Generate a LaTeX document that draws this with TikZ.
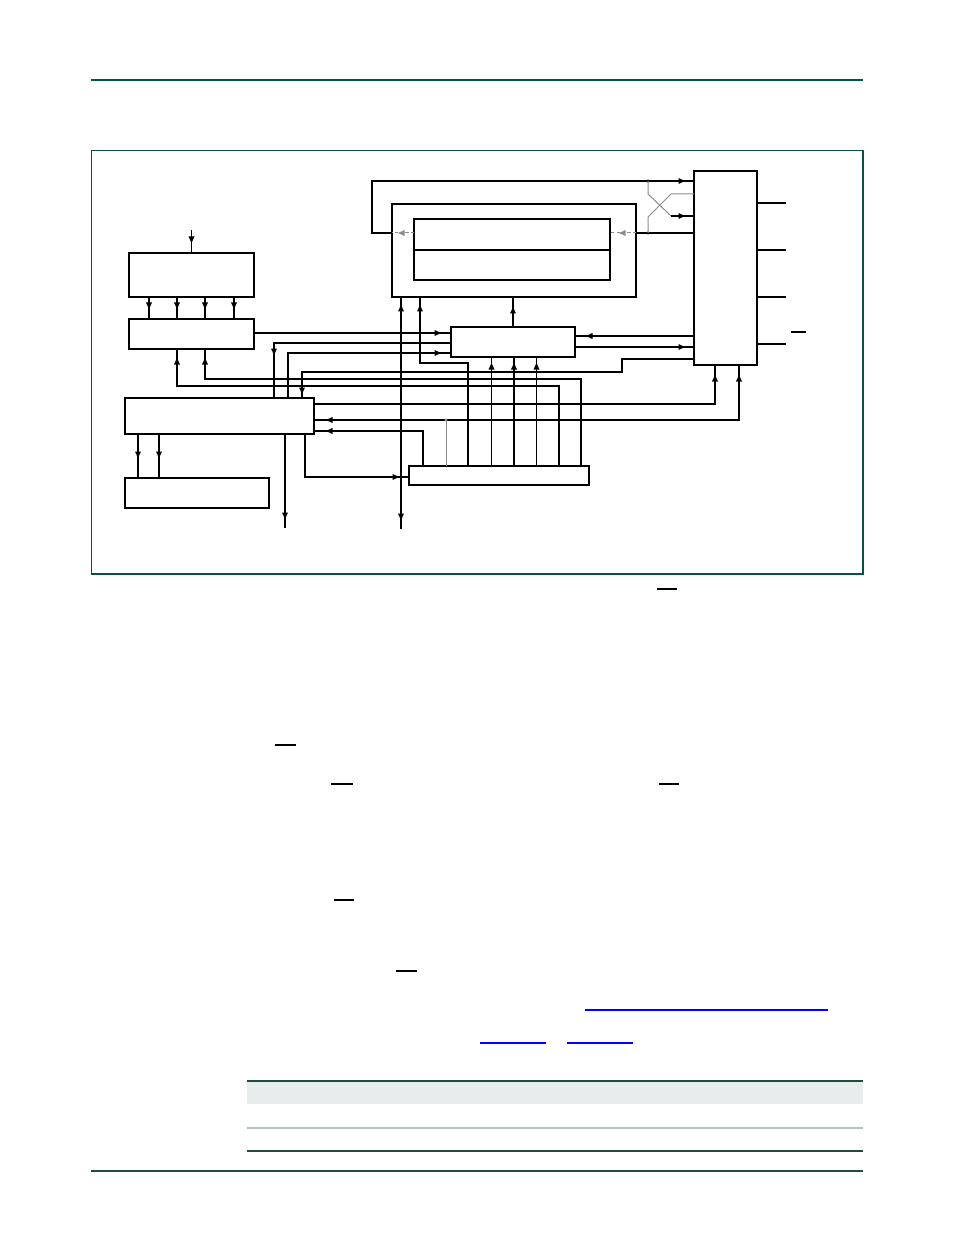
\documentclass[tikz,border=0pt]{standalone}
\definecolor{nxpgreen}{RGB}{0,84,72}
\definecolor{tabgreen}{RGB}{30,77,64}
\definecolor{tabfill}{RGB}{230,237,236}
\definecolor{tabline}{RGB}{178,196,193}
\definecolor{lgray}{RGB}{140,140,140}
\definecolor{linkblue}{RGB}{0,0,255}
\tikzset{
  blk/.style={draw, line width=1.15pt, inner sep=0pt, outer sep=0pt},
  blkthin/.style={blk, line width=0.8pt},
  wire/.style={line width=0.55pt},
  gwire/.style={line width=0.5pt, draw=lgray},
  dwire/.style={gwire, dash pattern=on 1.6pt off 1.1pt},
  ovl/.style={line width=0.55pt},
  lnk/.style={line width=0.55pt, draw=linkblue},
  tip/.pic={\fill (0,0) -- (-6.5,-3) -- (-6.5,3) -- cycle;}
}
\newcommand\tR[2]{\pic[rotate=0] at (#1,#2) {tip};}
\newcommand\tL[2]{\pic[rotate=180] at (#1,#2) {tip};}
\newcommand\tD[2]{\pic[rotate=-90] at (#1,#2) {tip};}
\newcommand\tU[2]{\pic[rotate=90] at (#1,#2) {tip};}
\begin{document}
\begin{tikzpicture}[x=0.5pt,y=-0.5pt, line join=miter]
\useasboundingbox (0,0) rectangle (954,1235);
\fill[white] (0,0) rectangle (954,1235);
% page rules
\draw[nxpgreen, line width=1pt] (91,80) -- (863,80);
\draw[tabgreen, line width=1pt] (91,1171) -- (863,1171);
\draw[nxpgreen, line width=0.65pt] (91.5,150.5) rectangle (863,574);
% table
\fill[tabfill] (247,1081) rectangle (863,1104);
\draw[tabgreen, line width=1pt] (247,1081) -- (863,1081);
\draw[tabline, line width=0.8pt] (247,1128) -- (863,1128);
\draw[tabgreen, line width=1pt] (247,1151) -- (863,1151);
% overlines and links in text
\draw[ovl] (657,589) -- (677,589);
\draw[ovl] (275,745) -- (296,745);
\draw[ovl] (331,784) -- (353,784);
\draw[ovl] (659,784) -- (679,784);
\draw[ovl] (334,900) -- (354,900);
\draw[ovl] (396,971) -- (417,971);
\draw[lnk] (585,1010) -- (828,1010);
\draw[lnk] (480,1043) -- (546,1043);
\draw[lnk] (567,1043) -- (633,1043);

% blocks
\node[blk, minimum width=62.5pt, minimum height=22pt] (A) at (191.5,275) {};
\node[blkthin, minimum width=62.5pt, minimum height=15pt] (B) at (191.5,334) {};
\node[blk, minimum width=94.5pt, minimum height=18pt] (C) at (219.5,416) {};
\node[blk, minimum width=72pt, minimum height=15pt] (D) at (197,493) {};
\node[blk, minimum width=122pt, minimum height=46.5pt] (F) at (514,250.5) {};
\node[blkthin, minimum width=98pt, minimum height=15.5pt] (G1) at (512,234.5) {};
\node[blk, minimum width=98pt, minimum height=15pt] (G2) at (512,265) {};
\node[blk, line width=0.95pt, minimum width=62pt, minimum height=15pt] (M) at (513,342) {};
\node[blk, minimum width=31.5pt, minimum height=97pt] (H) at (725.5,268) {};
\node[blk, minimum width=90pt, minimum height=9.5pt] (E) at (499,475.5) {};
\coordinate (in) at (191.5,230);

% input to A
\draw[wire] (in) -- (A.north); \tD{191.5}{243}
% A to B
\foreach \x in {149,177,205,234}{
  \draw[wire] (A.south -| \x,0) -- (B.north -| \x,0);
  \tD{\x}{309}
}
% B to M
\draw[wire] (B.east |- 0,333) -- (M.west |- 0,333); \tR{441}{333}
% M to C
\draw[wire] (M.west |- 0,343) -- (274,343) -- (C.north -| 274,0); \tD{274}{355}
% C to M
\draw[wire] (C.north -| 288,0) -- (288,353) -- (M.west |- 0,353); \tR{441}{353}
% E to F via x=420
\draw[wire] (E.north -| 468,0) -- (468,363) -- (420,363) -- (F.south -| 420,0); \tU{420}{305}
% long bidirectional line
\coordinate (lb) at (401,529);
\draw[wire] (F.south -| 401,0) -- (lb); \tU{401}{305} \tD{401}{520}
% H to C
\draw[wire] (H.west |- 0,359) -- (622,359) -- (622,372) -- (302,372) -- (C.north -| 302,0); \tD{302}{394}
% E to B
\draw[wire] (E.north -| 581,0) -- (581,379) -- (205,379) -- (B.south -| 205,0); \tU{205}{358}
\draw[wire] (E.north -| 559,0) -- (559,386) -- (177,386) -- (B.south -| 177,0); \tU{177}{358}
% E to M
\foreach \x in {491.5,514,536.5}{
  \draw[wire] (E.north -| \x,0) -- (M.south -| \x,0);
  \tU{\x}{363}
}
% C to H (x=715)
\draw[wire] (C.east |- 0,404) -- (715,404) -- (H.south -| 715,0); \tU{715}{375}
\fill (491.5,404) circle[radius=0.8pt];
% H/C line at 420 with E junction
\draw[wire] (C.east |- 0,420) -- (739,420) -- (H.south -| 739,0); \tU{739}{375} \tL{326}{420}
\draw[gwire] (E.north -| 446,0) -- (446,420);
\fill[lgray] (446,420) circle[radius=0.8pt];
% E to C
\draw[wire] (E.north -| 423,0) -- (423,431) -- (C.east |- 0,431); \tL{326}{431}
% C to E
\draw[wire] (C.south -| 305,0) -- (305,477) -- (E.west |- 0,477); \tR{399}{477}
% C down
\coordinate (cb) at (285,528);
\draw[wire] (C.south -| 285,0) -- (cb); \tD{285}{519}
% C to D
\foreach \x in {138,159}{
  \draw[wire] (C.south -| \x,0) -- (D.north -| \x,0);
  \tD{\x}{458}
}
% loop round F
\draw[wire] (F.west |- 0,233) -- (372,233) -- (372,181) -- (H.west |- 0,181); \tR{685}{181}
\draw[dwire] (G1.west |- 0,233) -- (F.west |- 0,233);
\begin{scope}[color=lgray]\tL{398}{233}\end{scope}
\draw[dwire] (F.east |- 0,233) -- (G1.east |- 0,233);
\begin{scope}[color=lgray]\tL{619}{233}\end{scope}
\draw[wire] (F.east |- 0,233) -- (H.west |- 0,233);
\fill (648,181) circle[radius=0.8pt];
\fill (648,233) circle[radius=0.8pt];
% crossover
\draw[gwire] (648,181) -- (648,194) -- (671,216);
\draw[wire] (671,216) -- (H.west |- 0,216); \tR{685}{216}
\draw[gwire] (648,233) -- (648,217) -- (671,194) -- (H.west |- 0,194);
% M to F
\draw[wire] (M.north) -- (F.south -| M.north); \tU{513}{307}
% H <-> M
\draw[wire] (H.west |- 0,336) -- (M.east |- 0,336); \tL{586}{336}
\draw[wire] (M.east |- 0,347) -- (H.west |- 0,347); \tR{685}{347}
% H right stubs
\foreach \y in {203,250,297,344}{
  \draw[wire] (H.east |- 0,\y) -- (786,\y);
}
\draw[ovl] (791,332) -- (806,332);
\end{tikzpicture}
\end{document}
